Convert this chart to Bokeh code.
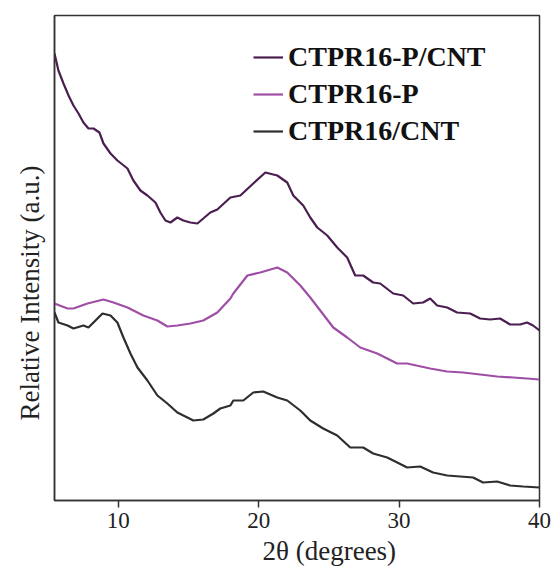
from bokeh.plotting import figure
from bokeh.models import Range1d, FixedTicker, Legend, LegendItem, Title
from bokeh.embed import file_html
from bokeh.resources import INLINE

# 2θ (degrees) and relative intensity (a.u.)
x_pcnt = [5.45, 5.73, 6.09, 6.45, 6.80, 7.16, 7.51, 7.87, 8.23, 8.65, 8.94, 9.44, 9.93, 10.65,
          11.07, 11.57, 12.07, 12.64, 12.99, 13.35, 13.71, 14.20, 14.63, 15.13, 15.63, 16.05,
          16.55, 17.05, 17.98, 18.69, 19.61, 20.47, 21.32, 22.03, 22.46, 23.17, 23.67, 24.17,
          24.88, 25.59, 26.30, 26.87, 27.44, 28.15, 28.65, 29.58, 30.29, 31.00, 31.71, 32.21,
          32.71, 33.42, 34.13, 35.06, 35.77, 36.48, 37.19, 37.91, 38.62, 39.11, 39.54, 40.0]
y_pcnt = [447, 430, 417, 405, 395, 387, 378, 372, 372, 368, 357, 347, 340, 332,
          320, 310, 305, 298, 288, 280, 278, 283, 280, 278, 277, 282,
          288, 291, 303, 305, 317, 328, 325, 318, 305, 295, 283, 273,
          265, 253, 243, 225, 225, 218, 217, 207, 205, 197, 198, 202,
          195, 193, 188, 187, 182, 181, 182, 176, 176, 178, 175, 170]

x_p = [5.45, 6.38, 6.80, 7.80, 8.94, 9.65, 10.65, 11.78, 12.78, 13.49, 14.20, 15.13, 16.05,
       17.05, 17.98, 18.19, 19.19, 20.11, 21.32, 22.03, 22.96, 23.67, 24.38, 25.31, 26.30,
       27.23, 28.44, 29.86, 30.57, 32.21, 33.42, 34.56, 35.77, 36.98, 38.12, 39.11, 40.0]
y_p = [197, 192, 192, 197, 201, 198, 193, 185, 180, 174, 175, 177, 180,
       188, 202, 207, 225, 228, 233, 228, 215, 203, 190, 173, 163,
       153, 147, 137, 137, 132, 129, 128, 126, 124, 123, 122, 121]

x_cnt = [5.45, 5.73, 6.38, 6.80, 7.51, 7.87, 8.37, 8.87, 9.44, 9.93, 10.36, 10.86, 11.36, 12.07,
         12.78, 13.49, 14.20, 14.92, 15.34, 16.05, 16.77, 17.26, 17.98, 18.19, 18.90, 19.61,
         20.32, 21.32, 22.03, 22.96, 23.67, 24.59, 25.59, 26.52, 27.44, 28.15, 29.15, 29.58,
         30.57, 31.50, 32.42, 33.42, 34.35, 35.27, 35.98, 36.98, 37.91, 38.83, 40.0]
y_cnt = [188, 178, 175, 172, 175, 173, 180, 187, 185, 178, 163, 147, 133, 120,
         105, 97, 88, 83, 80, 81, 87, 92, 95, 100, 100, 108,
         109, 103, 100, 90, 80, 72, 65, 53, 53, 47, 43, 40,
         33, 34, 28, 25, 24, 23, 18, 19, 15, 14, 13]

names = ["CTPR16-P/CNT", "CTPR16-P", "CTPR16/CNT"]
colors = ["#4a1f50", "#9f4ea6", "#2e2e2e"]
x_ticks = [10, 20, 30, 40]
x_title = "2θ (degrees)"
y_title = "Relative Intensity (a.u.)"

FONT = "Liberation Serif"

p = figure(width=557, height=572, output_backend="svg", toolbar_location=None,
           x_range=Range1d(5.45, 40), y_range=Range1d(0, 485))
p.min_border_left = 54
p.min_border_right = 18
p.min_border_top = 15
p.min_border_bottom = 72
p.grid.visible = False
p.outline_line_color = "#333333"
p.outline_line_width = 1.5
p.background_fill_color = "white"
p.border_fill_color = "white"

r1 = p.line(x_pcnt, y_pcnt, line_color=colors[0], line_width=2.2)
r2 = p.line(x_p, y_p, line_color=colors[1], line_width=2.2)
r3 = p.line(x_cnt, y_cnt, line_color=colors[2], line_width=2.2)

xa = p.xaxis[0]
xa.ticker = FixedTicker(ticks=x_ticks)
xa.major_label_text_font = FONT
xa.major_label_text_font_size = "23px"
xa.major_label_text_color = "#222222"
xa.major_label_standoff = 5
xa.major_tick_in = 0
xa.major_tick_out = 7
xa.major_tick_line_width = 1.5
xa.major_tick_line_color = "#333333"
xa.minor_tick_line_color = None
xa.axis_line_width = 1.5
xa.axis_line_color = "#333333"

ya = p.yaxis[0]
ya.ticker = FixedTicker(ticks=[])
ya.minor_tick_line_color = None
ya.major_tick_line_color = None
ya.axis_line_width = 1.5
ya.axis_line_color = "#333333"

xt = Title(text=x_title, align="left", offset=208, standoff=6,
           text_font=FONT, text_font_style="normal", text_font_size="27px",
           text_color="#222222")
p.add_layout(xt, "below")
yt = Title(text=y_title, align="left", offset=80, standoff=20,
           text_font=FONT, text_font_style="normal", text_font_size="27px",
           text_color="#222222")
p.add_layout(yt, "left")

legend = Legend(items=[LegendItem(label=names[0], renderers=[r1]),
                       LegendItem(label=names[1], renderers=[r2]),
                       LegendItem(label=names[2], renderers=[r3])],
                location=(199, 353))
legend.label_text_font = FONT
legend.label_text_font_style = "bold"
legend.label_text_font_size = "28px"
legend.label_text_color = "#111111"
legend.glyph_width = 30
legend.glyph_height = 32
legend.label_height = 32
legend.label_standoff = 5
legend.spacing = 5
legend.padding = 0
legend.margin = 0
legend.border_line_color = None
legend.background_fill_alpha = 0
p.add_layout(legend)

open("out.html", "w").write(file_html(p, INLINE))
